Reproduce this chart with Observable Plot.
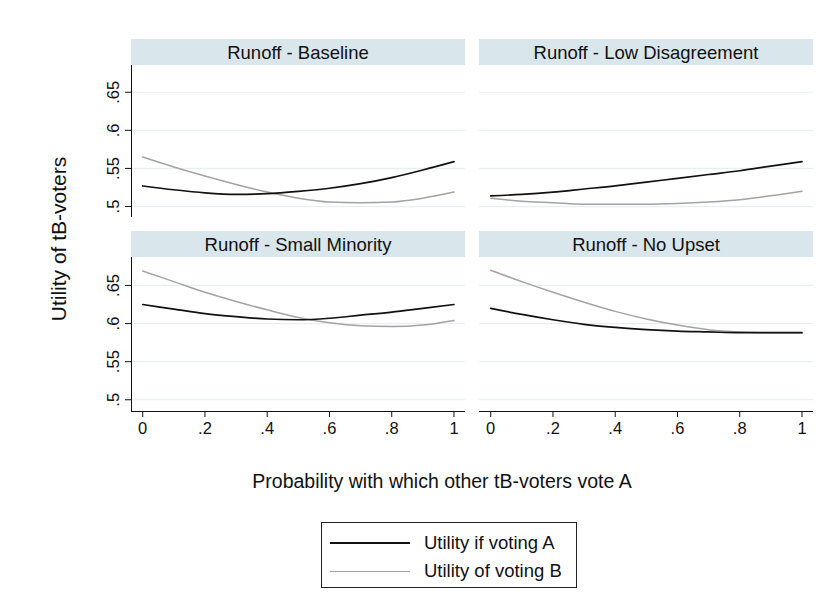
<!DOCTYPE html>
<html><head><meta charset="utf-8">
<script src="https://cdn.jsdelivr.net/npm/d3@7"></script>
<script src="https://cdn.jsdelivr.net/npm/@observablehq/plot@0.6"></script>
<style>
body{margin:0;background:#fff;font-family:"Liberation Sans",Arial,sans-serif;color:#111;}
#chart{position:relative;width:829px;height:612px;overflow:hidden;background:#fff;}
.pw{position:absolute;}
.band{position:absolute;background:#d9e6eb;height:26px;line-height:27px;text-align:center;font-size:18.5px;color:#111;white-space:nowrap;}
.ytitle{position:absolute;left:59px;top:239px;transform:translate(-50%,-50%) rotate(-90deg);font-size:21px;white-space:nowrap;}
.xtitle{position:absolute;left:442px;top:470px;transform:translateX(-50%);font-size:19.5px;white-space:nowrap;}
.legend{position:absolute;left:321px;top:522px;width:256px;height:66px;border:1px solid #222;box-sizing:border-box;}
.lrow{position:absolute;left:8px;height:20px;font-size:18.5px;line-height:20px;white-space:nowrap;}
.lrow .sw{display:inline-block;width:80px;height:0;vertical-align:middle;margin-right:14px;position:relative;top:-1px;}
</style></head><body><div id="chart"></div>
<script>
// ---- data ----
const xs = [0, 0.1, 0.2, 0.3, 0.4, 0.5, 0.6, 0.7, 0.8, 0.9, 1];
const panelTitles = ["Runoff - Baseline", "Runoff - Low Disagreement", "Runoff - Small Minority", "Runoff - No Upset"];
const seriesNames = ["Utility if voting A", "Utility of voting B"];
const baselineA = [0.527, 0.522, 0.518, 0.516, 0.517, 0.520, 0.524, 0.530, 0.538, 0.548, 0.559];
const baselineB = [0.565, 0.552, 0.540, 0.529, 0.519, 0.511, 0.506, 0.505, 0.506, 0.511, 0.519];
const lowDisA   = [0.514, 0.516, 0.519, 0.523, 0.527, 0.532, 0.537, 0.542, 0.547, 0.553, 0.559];
const lowDisB   = [0.511, 0.507, 0.505, 0.503, 0.503, 0.503, 0.504, 0.506, 0.509, 0.514, 0.520];
const smallMinA = [0.625, 0.619, 0.613, 0.609, 0.606, 0.605, 0.607, 0.611, 0.615, 0.620, 0.625];
const smallMinB = [0.669, 0.655, 0.641, 0.629, 0.618, 0.608, 0.601, 0.597, 0.596, 0.598, 0.604];
const noUpsetA  = [0.620, 0.612, 0.605, 0.599, 0.595, 0.592, 0.590, 0.589, 0.588, 0.588, 0.588];
const noUpsetB  = [0.670, 0.655, 0.641, 0.628, 0.616, 0.606, 0.598, 0.592, 0.589, 0.588, 0.588];
const yTicks = [0.5, 0.55, 0.6, 0.65];
const yTickLabels = [".5", ".55", ".6", ".65"];
const xTicks = [0, 0.2, 0.4, 0.6, 0.8, 1];
const xTickLabels = ["0", ".2", ".4", ".6", ".8", "1"];
const yTitle = "Utility of tB-voters";
const xTitle = "Probability with which other tB-voters vote A";

const colorA = "#111111", colorB = "#a3a3a3", gridColor = "#e7eff1";
const seriesA = [baselineA, lowDisA, smallMinA, noUpsetA];
const seriesB = [baselineB, lowDisB, smallMinB, noUpsetB];
const xDomain = [-0.036, 1.037];
const yDomains = [[0.4856, 0.6851], [0.4846, 0.6867]];

const chart = document.getElementById("chart");
const colLeft = [131, 479], rowTop = [65, 257], plotW = 334, plotH = [152, 154];
const bandTop = [39, 231];

for (let p = 0; p < 4; p++) {
  const col = p % 2, row = Math.floor(p / 2);
  const left = col === 0, bottom = row === 1;
  const mL = left ? 61 : 2, mR = 2, mT = 2, mB = bottom ? 32 : 4;
  const marks = [
    Plot.gridY(yTicks, {stroke: gridColor, strokeOpacity: 1, strokeWidth: 1.2})
  ];
  if (left) {
    marks.push(Plot.ruleX([xDomain[0]], {stroke: "#111", strokeWidth: 1}));
    marks.push(Plot.axisY(yTicks, {tickSize: 6, tickFormat: () => "", label: null, stroke: "#111"}));
    marks.push(Plot.text(yTicks, {y: d => d, frameAnchor: "left", text: (d, i) => yTickLabels[i],
      rotate: -90, dx: -18, textAnchor: "middle", lineAnchor: "middle", fontSize: 16.5, fill: "#111"}));
  }
  if (bottom) {
    marks.push(Plot.ruleY([yDomains[row][0]], {stroke: "#111", strokeWidth: 1}));
    marks.push(Plot.axisX(xTicks, {tickSize: 6, tickPadding: 5, tickFormat: (d, i) => xTickLabels[i], label: null, fontSize: 16.5, stroke: "#111", fill: "#111"}));
  }
  marks.push(Plot.line(xs, {x: d => d, y: (d, i) => seriesB[p][i], stroke: colorB, strokeWidth: 1.5, curve: "monotone-x"}));
  marks.push(Plot.line(xs, {x: d => d, y: (d, i) => seriesA[p][i], stroke: colorA, strokeWidth: 1.7, curve: "monotone-x"}));

  const svg = Plot.plot({
    width: mL + plotW + mR,
    height: mT + plotH[row] + mB,
    marginLeft: mL, marginRight: mR, marginTop: mT, marginBottom: mB,
    style: {fontFamily: "'Liberation Sans', Arial, sans-serif", fontSize: "16.5px", color: "#111", background: "transparent", overflow: "visible"},
    x: {domain: xDomain, axis: null},
    y: {domain: yDomains[row], axis: null},
    marks
  });
  const wrap = document.createElement("div");
  wrap.className = "pw";
  wrap.style.left = (colLeft[col] - mL) + "px";
  wrap.style.top = (rowTop[row] - mT) + "px";
  wrap.appendChild(svg);
  chart.appendChild(wrap);

  const band = document.createElement("div");
  band.className = "band";
  band.style.left = colLeft[col] + "px";
  band.style.top = bandTop[row] + "px";
  band.style.width = plotW + "px";
  band.textContent = panelTitles[p];
  chart.appendChild(band);
}

const yt = document.createElement("div"); yt.className = "ytitle"; yt.textContent = yTitle; chart.appendChild(yt);
const xt = document.createElement("div"); xt.className = "xtitle"; xt.textContent = xTitle; chart.appendChild(xt);

const lg = document.createElement("div"); lg.className = "legend";
[colorA, colorB].forEach((c, i) => {
  const r = document.createElement("div"); r.className = "lrow";
  r.style.top = (10 + i * 28) + "px";
  const sw = document.createElement("span"); sw.className = "sw";
  sw.style.borderTop = (i === 0 ? "2px" : "1.6px") + " solid " + c;
  r.appendChild(sw);
  r.appendChild(document.createTextNode(seriesNames[i]));
  lg.appendChild(r);
});
chart.appendChild(lg);
</script>
</body></html>
